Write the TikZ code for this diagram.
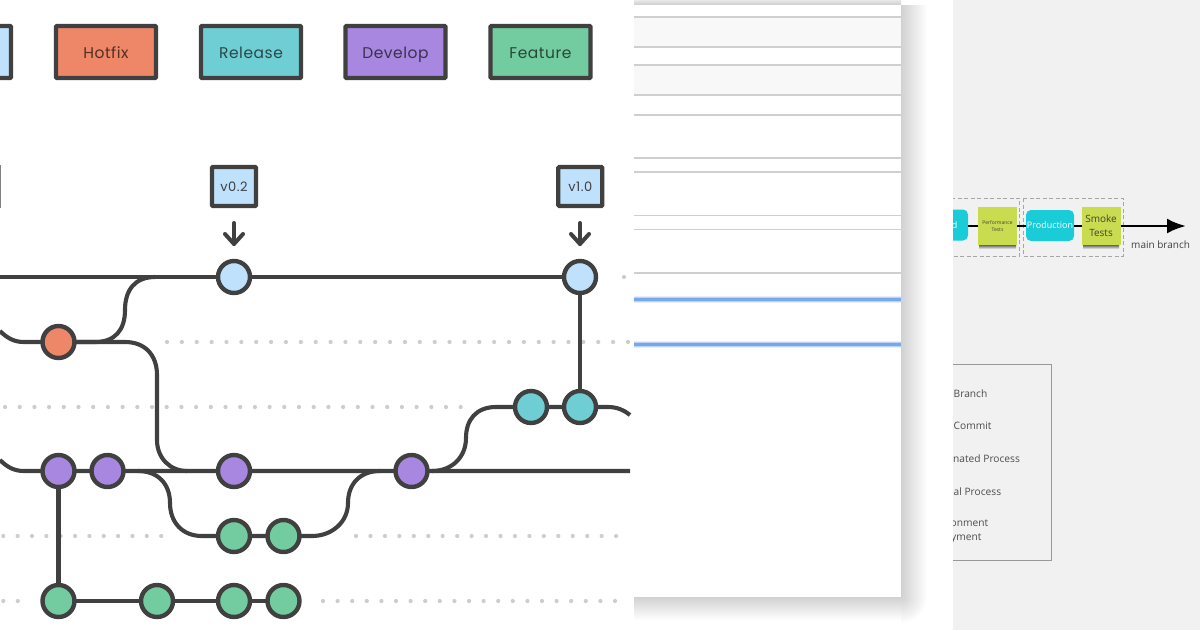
\documentclass[tikz,border=0pt]{standalone}
\usepackage{fontspec}
\setmainfont{Poppins}
\newfontfamily\legendfont[LetterSpace=3.5]{Poppins}
\newfontfamily\tagfont[LetterSpace=4]{Poppins}
\newfontfamily\opensans{Open Sans}
\usetikzlibrary{backgrounds,arrows.meta,calc}
\definecolor{ink}{HTML}{404040}
\definecolor{cblue}{HTML}{BFE1FB}
\definecolor{corange}{HTML}{EE8668}
\definecolor{cteal}{HTML}{6FCED3}
\definecolor{cpurple}{HTML}{A887E0}
\definecolor{cgreen}{HTML}{72CC9F}
\definecolor{dotc}{HTML}{CDCDCD}
\definecolor{rowline}{HTML}{CFCFCF}
\definecolor{rowfill}{HTML}{F8F8F8}
\definecolor{bluerow}{HTML}{78A8EC}
\definecolor{pagebg}{HTML}{F1F1F1}
\definecolor{cyanbox}{HTML}{1ACBD8}
\definecolor{sticky}{HTML}{C9DC50}
\tikzset{
  legendbox/.style={draw=ink,line width=4.3pt,rounded corners=1pt,minimum width=100pt,minimum height=52pt,inner sep=0pt,outer sep=0pt,text height=12.5pt,text depth=-2.5pt,font=\legendfont\fontsize{15.5}{18}\selectfont},
  tagbox/.style={draw=ink,line width=4.3pt,rounded corners=1pt,fill=cblue,minimum width=44pt,minimum height=39pt,inner sep=0pt,outer sep=0pt,font=\tagfont\fontsize{13}{15}\selectfont,text=ink},
  commit/.style={circle,draw=ink,line width=4.4pt,minimum size=32pt,inner sep=0pt,outer sep=0pt},
  wire/.style={draw=ink,line width=4.1pt},
  pointer/.style={draw=ink,line width=4pt,line cap=round,line join=round},
  rowrule/.style={draw=rowline,line width=1.3pt},
  flowbox/.style={fill=cyanbox,rounded corners=5pt,text=white,inner sep=0pt,outer sep=0pt,font=\opensans\fontsize{9}{11}\selectfont},
  stickynote/.style={fill=sticky,inner sep=0pt,outer sep=0pt,minimum width=39pt,minimum height=38pt,align=center,text=black!75},
  keytext/.style={anchor=west,inner sep=0pt,text=black!70,font=\opensans\fontsize{10.2}{12}\selectfont},
  stage/.style={draw=black!35,dash pattern=on 4pt off 2.5pt,line width=.9pt}
}
\newcommand{\dotrow}[4]{\foreach \k in {0,...,#4}{\fill[dotc] ({#1+\k*#3},#2) circle (2.1pt);}}
\begin{document}
\begin{tikzpicture}[x=1pt,y=-1pt]
\useasboundingbox (0,0) rectangle (1200,630);
% --- right page
\fill[pagebg] (953,0) rectangle (1200,630);
% --- shadow and panel
\shade[left color=black!18,middle color=black!5,right color=white] (901,5) rectangle (927,597);
\shade[top color=black!18,middle color=black!5,bottom color=white] (634,597) rectangle (901,620);
\begin{scope}
\clip (901,597) rectangle (927,623);
\shade[inner color=black!18,outer color=white] (901,597) circle (26pt);
\end{scope}
\shade[top color=black!9,bottom color=black!20] (634,0) rectangle (901,5);
\fill[white] (634,5) rectangle (901,597);
\fill[rowfill] (634,17) rectangle (901,47);
\fill[rowfill] (634,65) rectangle (901,95);
\foreach \yy in {17,47,65,95,115,158,172,215.5,229.5,273}{\draw[rowrule] (634,\yy) -- (901,\yy);}
\foreach \yy in {299,344}{
  \draw[bluerow!18,line width=7pt] (634,\yy) -- (901,\yy);
  \draw[bluerow!50,line width=5pt] (634,\yy) -- (901,\yy);
  \draw[bluerow,line width=3pt] (634,\yy) -- (901,\yy);
}
% --- legend boxes
\node[legendbox,fill=cblue,minimum width=18pt] (master) at (2,52) {};
\node[legendbox,fill=corange,text=corange!35!black] (hotfix) at (106,52) {Hotfix};
\node[legendbox,fill=cteal,text=cteal!35!black] (release) at (251,52) {Release};
\node[legendbox,fill=cpurple,text=cpurple!35!black] (develop) at (395.5,52) {Develop};
\node[legendbox,fill=cgreen,text=cgreen!35!black] (feature) at (540.5,52) {Feature};
\draw[black!50,line width=1.2pt] (0,165) -- (0,208);
% --- tags
\node[tagbox] (t02) at (234,186.5) {v0.2};
\node[tagbox] (t10) at (580.3,186.5) {v1.0};
% --- commits
\node[commit,fill=cblue] (m1) at (234,277) {};
\node[commit,fill=cblue] (m2) at (580,277) {};
\node[commit,fill=corange] (h1) at (58.5,342) {};
\node[commit,fill=cteal] (r1) at (531,407) {};
\node[commit,fill=cteal] (r2) at (580,407) {};
\node[commit,fill=cpurple] (d1) at (58.5,471) {};
\node[commit,fill=cpurple] (d2) at (107.5,471) {};
\node[commit,fill=cpurple] (d3) at (234,471) {};
\node[commit,fill=cpurple] (d4) at (411.5,471) {};
\node[commit,fill=cgreen] (f1) at (234,536) {};
\node[commit,fill=cgreen] (f2) at (283.5,536) {};
\node[commit,fill=cgreen] (g1) at (58.5,601) {};
\node[commit,fill=cgreen] (g2) at (157,601) {};
\node[commit,fill=cgreen] (g3) at (234,601) {};
\node[commit,fill=cgreen] (g4) at (283.5,601) {};
% --- free ends
\coordinate (mainL) at (0,277);
\coordinate (hotL) at (0,331);
\coordinate (devL) at (0,460);
\coordinate (devR) at (630,471);
\coordinate (relR) at (630,415);
\begin{pgfonlayer}{background}
\fill[white] (0,0) rectangle (1200,630);
\fill[dotc] (624,277) circle (2.1pt);
\dotrow{167}{342}{14.87}{31}
\dotrow{5}{407}{14.7}{31}
\dotrow{3.3}{536}{14.35}{11}
\dotrow{356}{536}{14.45}{18}
\dotrow{3.3}{601}{14.5}{1}
\dotrow{323}{601}{14.6}{20}
\draw[wire] (mainL) -- (m1) -- (m2);
\draw[wire] (m2) -- (r2);
\draw[wire] (hotL) .. controls (7,338) and (14,342) .. (24,342) -- (h1) -- (125,342) .. controls (145,342) and (157,355) .. (157,375) -- (157,440) .. controls (157,458) and (170,471) .. (187,471);
\draw[wire] (h1) -- (95,342) .. controls (115,342) and (125,330) .. (125,310) .. controls (125,290) and (135,277) .. (155,277);
\draw[wire] (devL) .. controls (7,467) and (14,471) .. (24,471) -- (d1) -- (d2) -- (d3) -- (d4) -- (devR);
\draw[wire] (d1) -- (g1) -- (g2) -- (g3) -- (g4);
\draw[wire] (138,471) .. controls (158,471) and (170,484) .. (170,503) .. controls (170,522) and (182,536) .. (202,536) -- (f1) -- (f2) -- (312,536) .. controls (332,536) and (348,522) .. (348,503) .. controls (348,484) and (360,471) .. (380,471);
\draw[wire] (432,471) .. controls (452,471) and (466,457) .. (466,438) .. controls (466,420) and (476,407) .. (496,407) -- (r1) -- (r2) -- (608,407) .. controls (617,407) and (624,410) .. (relR);
\end{pgfonlayer}
% --- tag pointers
\coordinate (p1a) at (234,223);\coordinate (p1b) at (234,244);
\coordinate (p1l) at (225,234);\coordinate (p1r) at (243,234);
\coordinate (p2a) at (580,223);\coordinate (p2b) at (580,244);
\coordinate (p2l) at (571,234);\coordinate (p2r) at (589,234);
\draw[pointer] (p1a) -- (p1b); \draw[pointer] (p1l) -- (p1b) -- (p1r);
\draw[pointer] (p2a) -- (p2b); \draw[pointer] (p2l) -- (p2b) -- (p2r);
% --- clipped flow diagram and key
\begin{scope}
\clip (953,0) rectangle (1200,630);
\draw[stage] (940,198) rectangle (1019.5,256);
\draw[stage] (1023,198) rectangle (1123,256);
\draw[draw=black!40,line width=.8pt] (930,364) rectangle (1051.5,560);
\shade[top color=black!60,bottom color=pagebg] (979,245) rectangle (1016,249);
\shade[top color=black!60,bottom color=pagebg] (1083,245) rectangle (1119,249);
\node[flowbox,minimum width=24pt,minimum height=31pt,anchor=east] (build) at (968,225) {};
\node[flowbox,minimum width=48pt,minimum height=31pt] (prod) at (1050,225.5) {Production};
\node[stickynote,font=\opensans\fontsize{5}{6.5}\selectfont] (perf) at (997.5,226) {Performance\\Tests};
\node[stickynote,font=\opensans\fontsize{10}{14}\selectfont] (smoke) at (1101,226) {Smoke\\Tests};
\node[anchor=east,inner sep=0pt,text=white,font=\opensans\fontsize{9}{11}\selectfont] (dfrag) at (957.5,225) {d};
\coordinate (arrowEnd) at (1186,226);
\draw[black,line width=2.8pt] (build.east|-perf.west) -- (perf.west);
\draw[black,line width=2.8pt] (perf.east) -- (prod.west|-perf.east);
\draw[black,line width=2.8pt] (prod.east|-smoke.west) -- (smoke.west);
\draw[black,line width=2.8pt,-{Latex[length=19pt,width=15pt]}] (smoke.east) -- (arrowEnd);
\node[anchor=west,inner sep=0pt,text=black!75,font=\opensans\fontsize{10}{12}\selectfont] (mainbranch) at (1131,245) {main branch};
\node[keytext] (k1) at (953.5,393.5) {Branch};
\node[keytext] (k2) at (953.5,425.5) {Commit};
\node[keytext] (k3) at (953,458.5) {nated Process};
\node[keytext] (k4) at (953.5,491.5) {al Process};
\node[keytext] (k5) at (950.5,523.5) {onment};
\node[keytext] (k6) at (951,538.5) {yment};
\end{scope}
\end{tikzpicture}
\end{document}
